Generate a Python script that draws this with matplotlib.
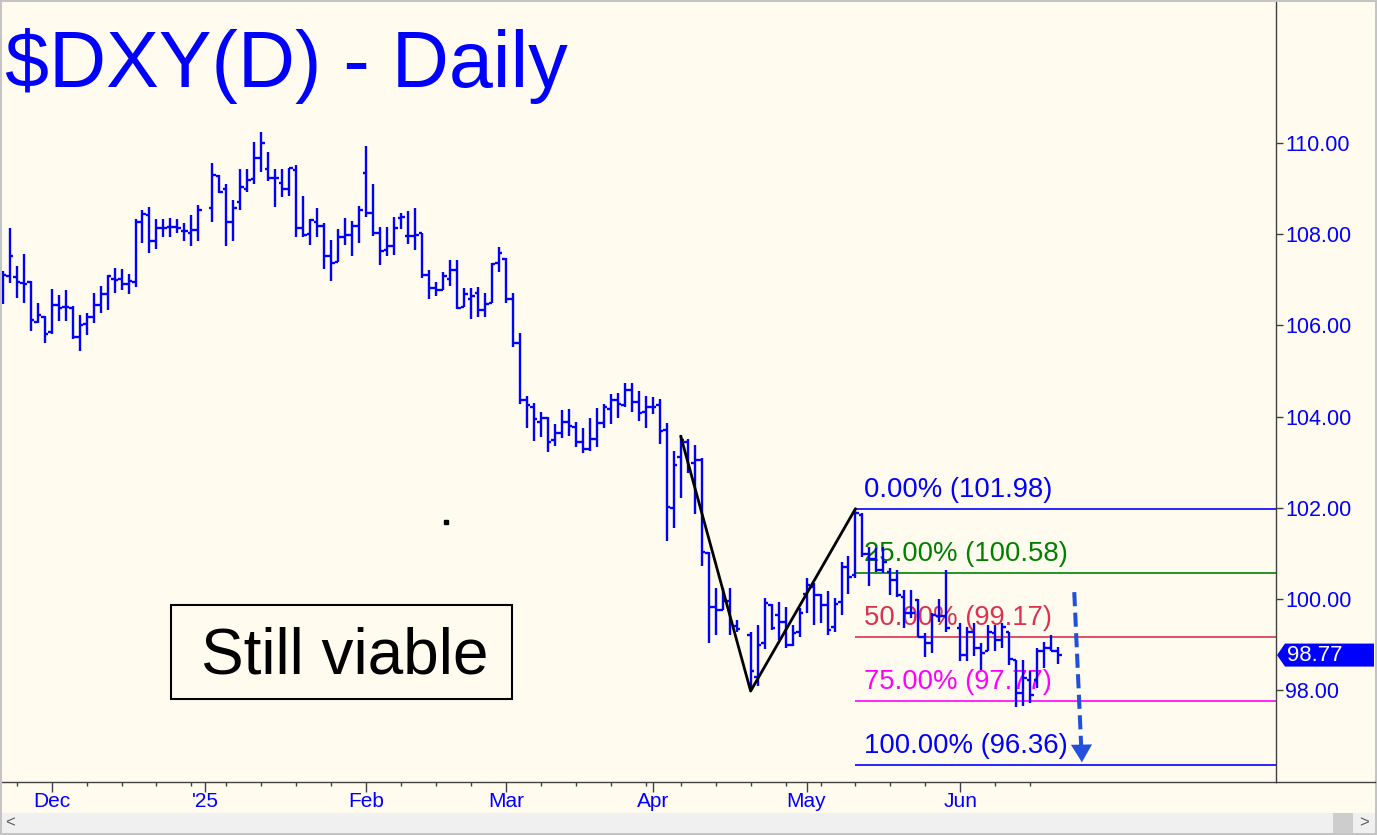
import matplotlib
matplotlib.use("Agg")
import matplotlib.pyplot as plt
import numpy as np
import pandas as pd
from matplotlib.patches import Polygon, Rectangle
from matplotlib.lines import Line2D

plt.rcParams['font.family'] = ['Liberation Sans', 'DejaVu Sans']

# daily bars, one slot per weekday (None = no bar that day)
dates = pd.bdate_range('2024-11-21', '2025-06-20')

opens = [107.00, 107.08, 107.07, 106.92, 106.94, 106.07, 106.19, 105.86, 106.45, 106.40,
         106.39, 105.75, 106.03, 106.18, 106.45, 106.69, 107.01, 107.01, 106.91, 106.96,
         108.27, 108.42, 107.84, 108.14, 108.16, 108.15, 108.06, 108.02, 108.09, None,
         108.57, 109.28, 109.00, 108.27, 108.71, 109.00, 109.20, 109.66, 109.42, 109.22,
         109.13, 108.98, 109.41, 108.13, 108.00, 108.27, 108.18, 107.51, 107.38, 107.93,
         107.99, 108.18, 109.33, 108.46, 108.02, 107.65, 107.74, 108.35, 107.96, 107.96,
         108.02, 107.10, 106.81, 106.78, 107.01, 107.21, 106.40, 106.57, 106.72, 106.34,
         106.50, 107.36, 107.45, 106.57, 105.62, 104.36, 104.22, 103.89, 103.96, 103.49,
         103.63, 103.87, 103.78, 103.45, 103.28, 103.50, 103.85, 104.16, 104.36, 104.25,
         104.58, 104.31, 104.11, 104.22, 104.25, 103.71, 101.99, 103.12, 103.45, 102.98,
         103.05, 101.00, 99.83, 99.76, 99.95, 99.40, None, 99.20, 98.28, 99.03,
         99.87, 99.65, 99.50, 98.99, 99.28, 100.12, 100.27, 100.09, 99.87, 99.39,
         99.94, 100.71, 100.53, 101.84, 100.99, 100.87, 100.64, 100.60, 100.42, 100.05,
         99.69, 99.98, 99.17, 99.03, 99.63, 99.63, None, 99.36, 98.77, 99.28,
         98.92, 98.85, 99.25, 99.10, 99.28, 98.66, 97.93, 98.22, 98.22, 98.85,
         98.92, 98.85]

highs = [107.20, 108.13, 107.30, 107.56, 106.97, 106.49, 106.21, 106.79, 106.67, 106.78,
         106.42, 106.23, 106.26, 106.72, 106.87, 107.10, 107.25, 107.24, 107.13, 108.33,
         108.54, 108.59, 108.34, 108.34, 108.35, 108.34, 108.25, 108.43, 108.63, None,
         109.57, 109.30, 109.11, 108.75, 109.42, 109.42, 110.01, 110.23, 109.79, 109.42,
         109.42, 109.46, 109.51, 108.84, 108.33, 108.57, 108.24, 107.87, 108.11, 108.35,
         108.29, 108.62, 109.93, 109.10, 108.16, 108.16, 108.37, 108.47, 108.51, 108.57,
         108.03, 107.21, 106.96, 107.16, 107.43, 107.43, 106.81, 106.81, 106.83, 106.70,
         107.36, 107.71, 107.47, 106.70, 105.83, 104.45, 104.29, 104.11, 103.98, 103.84,
         104.14, 104.17, 103.87, 103.74, 103.96, 104.18, 104.28, 104.49, 104.52, 104.73,
         104.73, 104.55, 104.44, 104.42, 104.38, 103.85, 103.25, 103.60, 103.50, 103.38,
         103.09, 101.04, 100.23, 100.23, 100.23, 99.53, None, 99.27, 99.43, 100.02,
         99.89, 99.94, 99.83, 99.43, 99.80, 100.45, 100.34, 100.12, 100.17, 100.02,
         100.82, 100.94, 101.98, 101.88, 101.15, 101.11, 101.15, 100.67, 100.64, 100.20,
         100.20, 100.01, 99.25, 99.69, 100.01, 100.64, None, 99.47, 99.39, 99.47,
         99.03, 99.43, 99.43, 99.47, 99.28, 98.66, 98.66, 98.41, 98.92, 99.06,
         99.21, 98.95]

lows = [106.46, 106.92, 106.59, 106.50, 105.87, 106.05, 105.62, 105.82, 106.10, 106.10,
        105.71, 105.43, 105.79, 106.05, 106.28, 106.34, 106.72, 106.78, 106.69, 106.83,
        107.81, 107.59, 107.68, 107.93, 107.93, 108.03, 107.86, 107.75, 107.86, None,
        108.27, 108.90, 107.74, 107.86, 108.53, 108.93, 109.09, 109.36, 109.17, 108.60,
        108.82, 108.84, 107.93, 107.93, 107.76, 107.93, 107.23, 106.98, 107.38, 107.76,
        107.51, 107.80, 108.38, 107.95, 107.32, 107.52, 107.54, 108.11, 107.78, 107.65,
        107.03, 106.57, 106.64, 106.78, 106.86, 106.35, 106.40, 106.13, 106.19, 106.18,
        106.48, 107.18, 106.50, 105.53, 104.28, 103.76, 103.47, 103.56, 103.23, 103.36,
        103.52, 103.57, 103.33, 103.21, 103.25, 103.33, 103.76, 103.84, 103.96, 104.22,
        104.09, 103.91, 103.76, 104.06, 103.40, 101.28, 101.55, 102.21, 102.77, 101.86,
        100.72, 99.03, 99.21, 99.75, 99.21, 99.28, None, 98.00, 98.09, 98.90,
        99.31, 99.10, 98.92, 98.96, 99.17, 99.69, 99.43, 99.48, 99.21, 99.28,
        99.65, 100.12, 100.45, 100.93, 100.29, 100.60, 100.56, 100.09, 100.05, 99.36,
        99.58, 99.17, 98.72, 98.81, 99.50, 99.28, None, 98.63, 98.63, 98.74,
        98.44, 98.85, 98.85, 98.92, 98.55, 97.64, 97.65, 97.73, 98.04, 98.48,
        98.85, 98.57]

closes = [107.11, 107.52, 106.94, 106.91, 106.12, 106.23, 105.81, 106.45, 106.37, 106.40,
          105.75, 106.01, 106.18, 106.45, 106.69, 107.09, 106.99, 106.90, 106.97, 108.27,
          108.44, 107.84, 108.13, 108.13, 108.15, 108.13, 108.06, 108.09, 108.52, None,
          109.30, 108.93, 108.27, 108.57, 109.04, 109.19, 109.66, 109.99, 109.22, 109.22,
          108.98, 109.44, 108.13, 107.98, 108.31, 108.18, 107.51, 107.36, 107.93, 107.99,
          108.18, 108.53, 108.46, 108.02, 107.62, 107.74, 108.13, 108.38, 107.96, 107.98,
          107.10, 106.81, 106.78, 107.08, 107.21, 106.39, 106.69, 106.64, 106.34, 106.47,
          107.34, 107.59, 106.57, 105.61, 104.36, 104.25, 103.94, 103.96, 103.45, 103.65,
          103.87, 103.79, 103.45, 103.28, 103.50, 103.85, 104.22, 104.36, 104.28, 104.58,
          104.31, 104.07, 104.22, 104.22, 103.69, 102.01, 102.94, 103.49, 102.84, 103.05,
          101.02, 99.82, 99.76, 99.95, 99.48, 99.35, None, 98.41, 99.00, 99.92,
          99.36, 99.50, 98.99, 99.25, 99.69, 100.31, 100.09, 99.87, 99.32, 99.90,
          100.71, 100.49, 101.88, 100.98, 100.87, 100.64, 100.80, 100.42, 100.09, 99.69,
          99.69, 99.17, 99.03, 99.65, 99.63, 99.36, None, 98.77, 99.28, 98.92,
          98.81, 99.28, 99.10, 99.39, 98.68, 97.93, 98.26, 97.89, 98.85, 98.92,
          98.85, 98.77]

month_dates = ['2024-12-02', '2025-01-01', '2025-02-03', '2025-03-03',
               '2025-04-01', '2025-05-01', '2025-06-02']
month_labels = ['Dec', "'25", 'Feb', 'Mar', 'Apr', 'May', 'Jun']
price_ticks = [98, 100, 102, 104, 106, 108, 110]

# abc pattern drawn on the chart
zig_dates = ['2025-04-07', '2025-04-21', '2025-05-12']
zig_prices = [103.57, 97.98, 101.98]

fib_pcts = [0, 25, 50, 75, 100]
fib_prices = [101.98, 100.58, 99.17, 97.77, 96.36]
fib_colors = ['#0000ff', '#008000', '#dc3250', '#ff00ff', '#0000ff']

# target arrow, in day slots past the first bar
arrow_x = [153.3, 154.4]
arrow_y = [100.15, 96.36]

last_price = 98.77

BG = '#fffbef'
BLUE = '#0000ff'
AXC = '#404040'
W, H = 1377, 835

o = np.array(opens, dtype=float)
h = np.array(highs, dtype=float)
l = np.array(lows, dtype=float)
c = np.array(closes, dtype=float)
x = np.arange(len(dates), dtype=float)
ok = ~np.isnan(c)

fig = plt.figure(figsize=(W / 100, H / 100), dpi=100)
fig.patch.set_facecolor(BG)
ax = fig.add_axes([2 / W, (H - 782) / H, (1276 - 2) / W, (782 - 2) / H])
ax.set_facecolor(BG)
ax.set_xlim(-0.1, 182.16)
ax.set_ylim(95.987, 113.09)

# fib levels
x0 = dates.get_loc(pd.Timestamp(zig_dates[2]))
for pct, pr, col in zip(fib_pcts, fib_prices, fib_colors):
    ax.hlines(pr, x0, 182.16, color=col, lw=1.2, zorder=2)
    ax.text(x0 + 1.15, pr + 0.26, f"{pct:.2f}% ({pr:.2f})", color=col,
            fontsize=19.8, va='baseline', ha='left', zorder=3)

# ohlc bars
tk = 0.5
ax.vlines(x[ok], l[ok], h[ok], color=BLUE, lw=1.7, zorder=4, capstyle='butt')
ax.hlines(o[ok], x[ok] - tk, x[ok], color=BLUE, lw=1.7, zorder=4, capstyle='butt')
ax.hlines(c[ok], x[ok], x[ok] + tk, color=BLUE, lw=1.7, zorder=4, capstyle='butt')

# zigzag
zx = dates.get_indexer(pd.to_datetime(zig_dates))
ax.plot(zx, zig_prices, color='black', lw=2.0, zorder=5, solid_capstyle='round')

# stray dot
ax.plot(63.4, 101.69, 's', color='black', ms=2.6, zorder=5)

# dashed target arrow
acol = '#2050dd'
ax.plot([arrow_x[0], arrow_x[0] + 0.93 * (arrow_x[1] - arrow_x[0])],
        [arrow_y[0], arrow_y[1] + 0.3], color=acol, lw=2.9,
        ls=(0, (3.5, 1.6)), zorder=6, dash_capstyle='butt')
ax.annotate('', xy=(arrow_x[1], arrow_y[1]), xytext=(arrow_x[1] - 0.05, arrow_y[1] + 0.35),
            arrowprops=dict(arrowstyle='-|>,head_length=0.5,head_width=0.3',
                            color=acol, lw=0.1, mutation_scale=25), zorder=6)

# axes styling
for s in ['top', 'left']:
    ax.spines[s].set_visible(False)
ax.spines['right'].set_color(AXC)
ax.spines['bottom'].set_color(AXC)
ax.spines['right'].set_linewidth(1.0)
ax.spines['bottom'].set_linewidth(1.0)

ax.yaxis.tick_right()
ax.set_yticks(price_ticks)
ax.set_yticklabels([f"{v:.2f}" for v in price_ticks])
ax.tick_params(axis='y', colors=AXC, labelcolor=BLUE, length=5, width=1,
               labelsize=15.5, pad=1.5)

mpos = dates.get_indexer(pd.to_datetime(month_dates))
ax.set_xticks(mpos)
ax.set_xticklabels(month_labels)
ax.set_xticks(np.where(dates.dayofweek == 0)[0], minor=True)
ax.tick_params(axis='x', which='major', colors=AXC, labelcolor=BLUE, length=7.5,
               width=1, labelsize=15, pad=0)
ax.tick_params(axis='x', which='minor', colors=AXC, length=3, width=1)


def fx(px):
    return px / W


def fy(py):
    return 1 - py / H


# price tag at right
yc = ax.transData.transform((0, last_price))[1]
yc = H - yc
tag = Polygon([(fx(1277), fy(yc)), (fx(1285), fy(yc - 11.5)), (fx(1374), fy(yc - 11.5)),
               (fx(1374), fy(yc + 11.5)), (fx(1285), fy(yc + 11.5))],
              closed=True, transform=fig.transFigure, facecolor=BLUE, edgecolor='none')
fig.patches.append(tag)
fig.text(fx(1287), fy(yc), f"{last_price:.2f}", color='white', fontsize=16,
         va='center', ha='left')

# title
fig.text(fx(5), fy(87), '$DXY(D) - Daily', color=BLUE, fontsize=57, va='baseline', ha='left')

# comment box
fig.patches.append(Rectangle((fx(171), fy(699)), (512 - 171) / W, (699 - 605) / H,
                             transform=fig.transFigure, facecolor='none',
                             edgecolor='black', lw=1.5))
fig.text(fx(345), fy(673), 'Still viable', color='black', fontsize=46,
         va='baseline', ha='center')

# bottom axis line continues under the price scale
fig.lines.append(Line2D([fx(1276), fx(1375)], [fy(782), fy(782)], color=AXC, lw=1.0,
                        transform=fig.transFigure))

# scrollbar and window frame
fig.patches.append(Rectangle((0, fy(834)), 1, (834 - 813) / H, transform=fig.transFigure,
                             facecolor='#f0f0f0', edgecolor='none'))
fig.patches.append(Rectangle((fx(1333), fy(833)), 20 / W, 20 / H, transform=fig.transFigure,
                             facecolor='#cdcdcd', edgecolor='none'))
fig.text(fx(10), fy(823), '<', color='#606060', fontsize=12, va='center', ha='center')
fig.text(fx(1364), fy(823), '>', color='#606060', fontsize=12, va='center', ha='center')
fc = '#c4c4c4'
fig.patches.append(Rectangle((0, fy(2)), 1, 2 / H, transform=fig.transFigure, facecolor=fc, edgecolor='none'))
fig.patches.append(Rectangle((0, 0), 2 / W, 1, transform=fig.transFigure, facecolor=fc, edgecolor='none'))
fig.patches.append(Rectangle((fx(1375), 0), 2 / W, 1, transform=fig.transFigure, facecolor=fc, edgecolor='none'))
fig.patches.append(Rectangle((0, 0), 1, 2 / H, transform=fig.transFigure, facecolor=fc, edgecolor='none'))

fig.savefig('out.png', dpi=100, facecolor=BG)
plt.close(fig)
